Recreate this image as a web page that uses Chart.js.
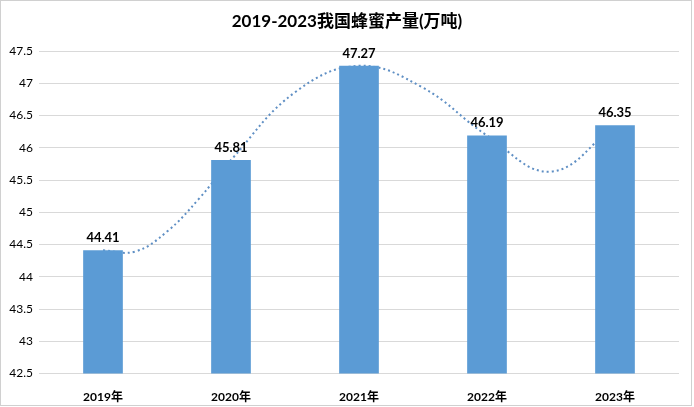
<!DOCTYPE html>
<html>
<head>
<meta charset="utf-8">
<script src="https://cdn.jsdelivr.net/npm/chart.js@4/dist/chart.umd.min.js"></script>
<style>
  html, body { margin: 0; padding: 0; background: #fff; }
  #wrap { width: 694px; height: 407px; }
</style>
</head>
<body>
<div id="wrap"><canvas id="chart" width="694" height="407"></canvas></div>
<script>
const years = ['2019年', '2020年', '2021年', '2022年', '2023年'];
const output = [44.41, 45.81, 47.27, 46.19, 46.35];

// dotted trend curve (x = category index)
const trendX = [0, 0.25, 0.5, 0.75, 1, 1.5, 2, 2.5, 3, 3.5, 4];
const trendY = [44.41, 44.39, 44.70, 45.21, 45.81, 46.86, 47.27, 46.93, 46.19, 45.63, 46.35];

const titleText = '2019-2023我国蜂蜜产量(万吨)';
const FONT = "Lato, 'Noto Sans CJK SC', sans-serif";

// Title, value labels and the outer frame
const decor = {
    id: 'decor',
    afterDraw(chart) {
        const ctx = chart.ctx;
        ctx.save();
        ctx.strokeStyle = '#d0d0d0';
        ctx.lineWidth = 1;
        ctx.strokeRect(0.5, 0.5, 691, 405);

        ctx.fillStyle = '#000';
        ctx.font = `bold 17px ${FONT}`;
        ctx.textAlign = 'center';
        ctx.textBaseline = 'middle';
        ctx.fillText(titleText, 347, 22);

        const meta = chart.getDatasetMeta(0);
        ctx.font = `bold 13px ${FONT}`;
        ctx.textBaseline = 'bottom';
        meta.data.forEach((bar, i) => {
            ctx.fillText(output[i].toFixed(2), bar.x, bar.y - 6);
        });
        ctx.restore();
    }
};

new Chart(document.getElementById('chart'), {
    data: {
        labels: years,
        datasets: [{
            type: 'bar',
            data: output,
            backgroundColor: '#5b9bd5',
            grouped: false,
            barPercentage: 0.31,
            categoryPercentage: 1,
            order: 1
        }, {
            type: 'line',
            data: trendX.map((x, i) => ({ x, y: trendY[i] })),
            xAxisID: 'xt',
            borderColor: '#5f8fc4',
            borderWidth: 2,
            borderDash: [2, 3],
            pointRadius: 0,
            tension: 0.4,
            fill: false,
            order: 2
        }]
    },
    options: {
        responsive: false,
        animation: false,
        layout: { padding: { top: 51, right: 15, bottom: 0, left: 0 } },
        plugins: {
            legend: { display: false },
            tooltip: { enabled: false }
        },
        scales: {
            x: {
                offset: true,
                grid: { display: false },
                border: { display: false },
                ticks: {
                    color: '#000',
                    font: { family: FONT, size: 12, weight: 'bold' },
                    padding: 8,
                    maxRotation: 0
                },
                afterFit(scale) { scale.height = 33.5; }
            },
            xt: {
                type: 'linear',
                display: false,
                min: -0.5,
                max: 4.5
            },
            y: {
                min: 42.5,
                max: 47.5,
                ticks: {
                    stepSize: 0.5,
                    color: '#000',
                    font: { family: FONT, size: 12 },
                    padding: 6,
                    callback: (v) => String(Math.round(v * 10) / 10)
                },
                grid: { color: '#d9d9d9', drawTicks: false },
                border: { display: false },
                afterFit(scale) { scale.width = 39; }
            }
        }
    },
    plugins: [decor]
});
</script>
</body>
</html>
